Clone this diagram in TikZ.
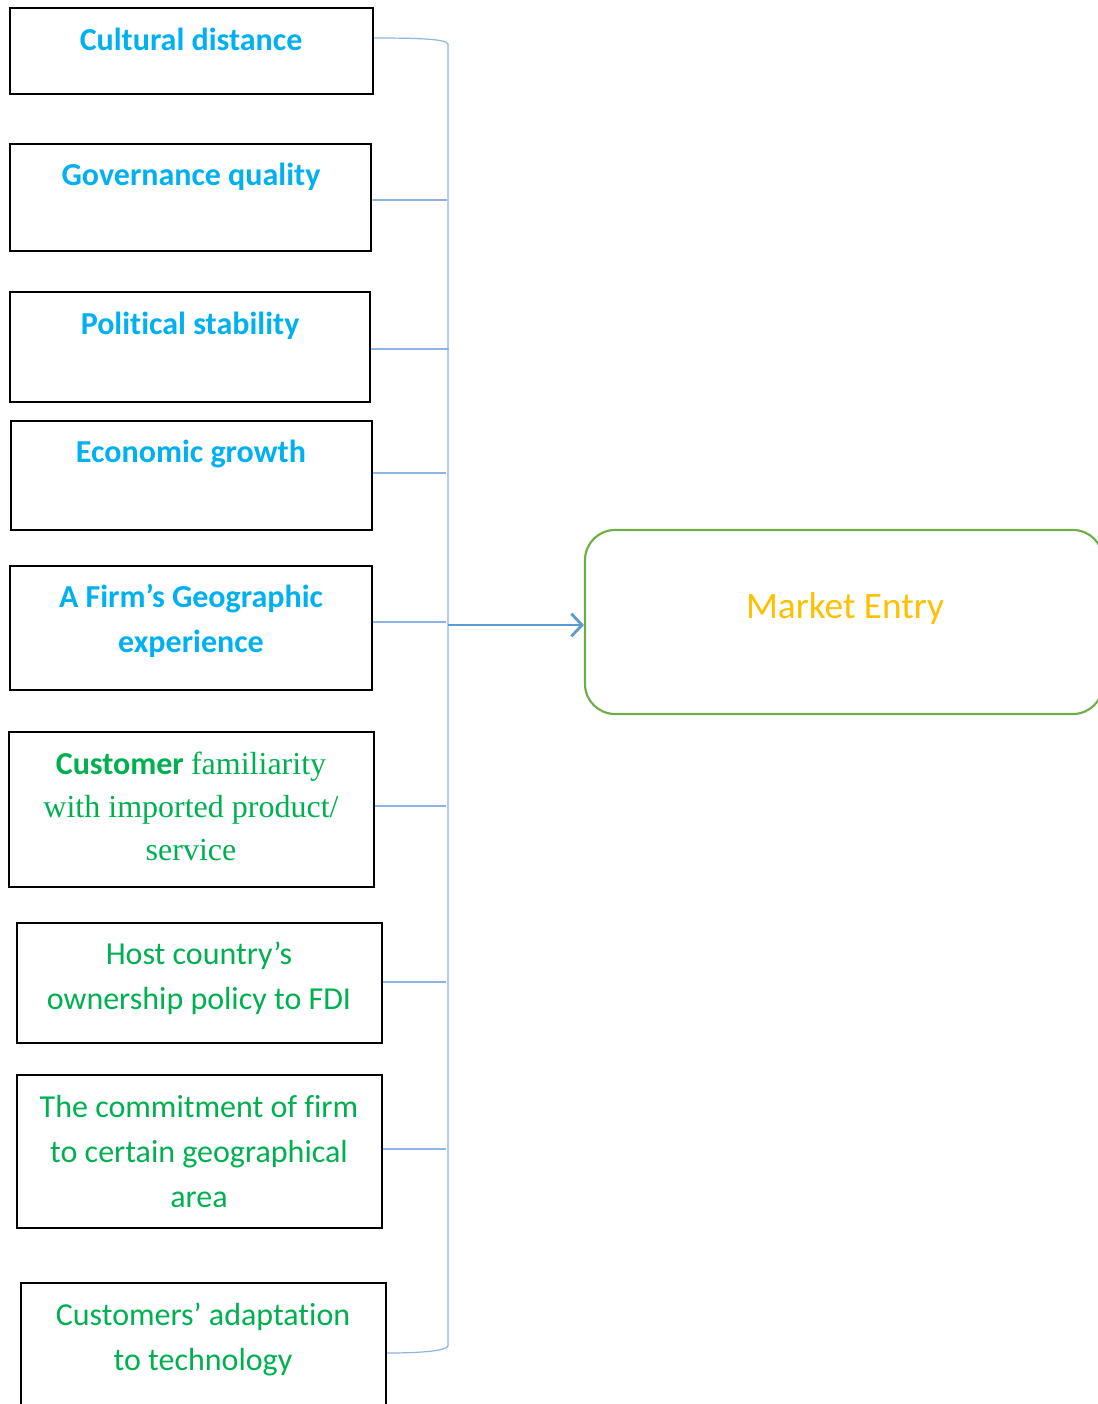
\documentclass[tikz,border=0pt]{standalone}
\usepackage{fontspec}
\setmainfont{Carlito}[Ligatures=NoCommon]
\newfontfamily\serifx{Liberation Serif}
\usetikzlibrary{arrows.meta}
\definecolor{cyanblue}{HTML}{00B0F0}
\definecolor{grn}{HTML}{00B050}
\definecolor{gold}{HTML}{FFC000}
\definecolor{boxgreen}{HTML}{70AD47}
\definecolor{lineblue}{HTML}{8DB4E2}
\definecolor{arrblue}{HTML}{5B9BD5}
\newcommand\pxu[1]{#1*0.75pt}
\tikzset{
  fbox/.style 2 args={draw=black, line width=1.5pt, minimum width={\pxu{#1}}, minimum height={\pxu{#2}}, inner sep=0pt},
  btxt/.style={text=cyanblue, font=\fontsize{24}{33.75}\selectfont\bfseries, align=center, inner sep=0pt},
  gtxt/.style={text=grn, font=\fontsize{24}{33.75}\selectfont, align=center, inner sep=0pt},
  conn/.style={draw=lineblue, line width=0.9pt},
}
\begin{document}
\begin{tikzpicture}[x=0.75pt, y=-0.75pt]
\useasboundingbox (0,0) rectangle (1097,1404);
% boxes
\node[fbox={363}{86}]  (b1) at (191.5,51) {};
\node[fbox={361}{107}] (b2) at (190.5,197.5) {};
\node[fbox={360}{110}] (b3) at (190,347) {};
\node[fbox={361}{109}] (b4) at (191.5,475.5) {};
\node[fbox={362}{124}] (b5) at (191,628) {};
\node[fbox={365}{155}] (b6) at (191.5,809.5) {};
\node[fbox={365}{120}] (b7) at (199.5,983) {};
\node[fbox={365}{153}] (b8) at (199.5,1151.5) {};
\node[fbox={365}{140}] (b9) at (203.5,1353) {};
% texts
\node[btxt] (t1) at (191,39) {Cultural distance};
\node[btxt] (t2) at (191,177) {Governance quality};
\node[btxt] (t3) at (190,325.5) {Political stability};
\node[btxt] (t4) at (191,454) {Economic growth};
\node[btxt] (t5) at (191,621) {A Firm’s Geographic\\experience};
\node[gtxt, font=\fontsize{24}{32.25}\selectfont] (t6) at (191,806) {\textbf{Customer} {\serifx familiarity}\\{\serifx with imported product/}\\{\serifx service}};
\node[gtxt] (t7) at (199,978.5) {Host country’s\\ownership policy to FDI};
\node[gtxt] (t8) at (199,1151) {The commitment of firm\\to certain geographical\\area};
\node[gtxt] (t9) at (203,1339.5) {Customers’ adaptation\\to technology};
% market entry
\node[draw=boxgreen, line width=1.6pt, rounded corners={\pxu{30}}, minimum width={\pxu{518}}, minimum height={\pxu{184}}] (me) at (844,622) {};
\node[text=gold, font=\fontsize{28}{34}\selectfont, inner sep=0pt] (metext) at (845,609) {Market Entry};
% bus
\coordinate (bustop) at (448,44);
\coordinate (busbot) at (448,1346);
\draw[conn] ([yshift={\pxu{13}}]b1.east) .. controls (420,38) and (446,39) .. (bustop) -- (busbot)
  .. controls (446,1351) and (420,1353) .. (b9.east);
\draw[conn] ([yshift={\pxu{-2.5}}]b2.east) -- ++(75,0);
\draw[conn] ([yshift={\pxu{-2}}]b3.east) -- ++(78,0);
\draw[conn] ([yshift={\pxu{2.5}}]b4.east) -- ++(73,0);
\draw[conn] ([yshift={\pxu{6}}]b5.east) -- ++(73,0);
\draw[conn] ([yshift={\pxu{3.5}}]b6.east) -- ++(71,0);
\draw[conn] ([yshift={\pxu{1}}]b7.east) -- ++(63,0);
\draw[conn] ([yshift={\pxu{2.5}}]b8.east) -- ++(63,0);
% arrow
\coordinate (arrstart) at (448,625);
\draw[draw=arrblue, line width=2.1pt, -{Straight Barb[length=8pt, width=17pt, line width=2.1pt]}] (arrstart) -- (me.west |- arrstart);
\end{tikzpicture}
\end{document}
